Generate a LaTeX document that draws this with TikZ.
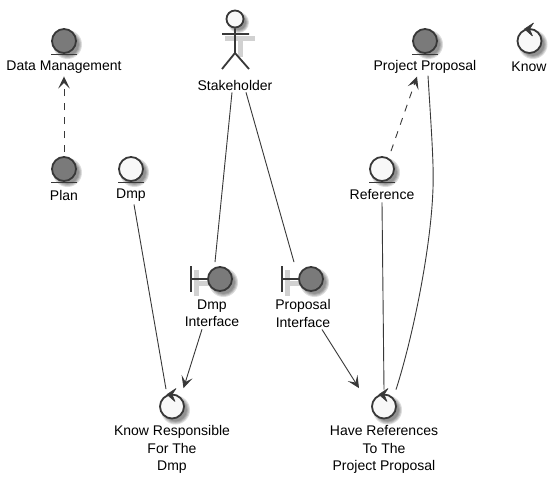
\documentclass[tikz,border=0pt]{standalone}
\usepackage{fontspec}
\setmainfont{Liberation Sans}
\usetikzlibrary{arrows.meta,calc}
\definecolor{ink}{HTML}{383838}
\definecolor{lite}{HTML}{F8F8F8}
\definecolor{dark}{HTML}{7A7A7A}
\newcommand{\softdisc}[3]{%
  \foreach \dr in {2.5,1.5,.5,-.5}{\fill[black,opacity=.13] ({#1+3.5},{#2+3.5}) circle ({#3+\dr});}}
\tikzset{
  ball/.style={circle,draw=ink,line width=1.8pt,minimum size=24pt,inner sep=0pt},
  lightball/.style={ball,fill=lite},
  darkball/.style={ball,fill=dark},
  glyph/.style={draw=ink,line width=1.8pt},
  chevron/.style={fill=ink,draw=ink,line width=.6pt,line join=round},
  glyphshadow/.style={draw=black!18,line width=5pt},
  caption/.style={font=\fontsize{14pt}{17.3pt}\selectfont,align=center,text=black,inner sep=0pt},
  link/.style={draw=ink,line width=.9pt},
  headed/.style={link,-{Stealth[length=12pt,width=11.5pt,inset=5.5pt]}},
  dashlink/.style={headed,dash pattern=on 7pt off 7pt}
}
\begin{document}
\begin{tikzpicture}[x=1pt,y=-1pt]
\useasboundingbox (0,0) rectangle (557,484);
\fill[white] (0,0) rectangle (557,484);
% entities
\foreach \n/\x/\y/\s in {dm/64/41/darkball,plan/64/169/darkball,dmp/131/169/lightball,pp/425/41/darkball,ref/382/169/lightball}{
  \softdisc{\x}{\y}{12}
  \node[\s] (\n) at (\x,\y) {};
  \draw[glyph] ($(\n.center)+(-13,13.5)$) -- ($(\n.center)+(13,13.5)$);
}
% controls
\foreach \n/\x/\y in {know/529.5/41,krd/172/406.5,hrp/384/406.5}{
  \softdisc{\x}{\y}{12}
  \node[lightball] (\n) at (\x,\y) {};
  \draw[chevron] ($(\n.center)+(4,-18)$) -- ($(\n.center)+(-5,-12)$) -- ($(\n.center)+(3,-5)$) -- ($(\n.center)+(0,-12)$) -- cycle;
}
% boundaries
\foreach \n/\x/\y in {dmpi/220/279,ppi/311/279}{
  \draw[glyphshadow] ({\x-24},{\y-9}) -- ({\x-24},{\y+17}) ({\x-24},{\y+4}) -- ({\x-10},{\y+4});
  \softdisc{\x}{\y}{12}
  \node[darkball] (\n) at (\x,\y) {};
  \draw[glyph] ($(\n.center)+(-29,-13)$) -- ($(\n.center)+(-29,13)$) ($(\n.center)+(-29,0)$) -- (\n.west);
}
% actor
\softdisc{235}{19}{8}
\draw[glyphshadow] (225,39) -- (255,39) (240,36) -- (240,57);
\node[circle,draw=ink,fill=lite,line width=1.8pt,minimum size=17pt,inner sep=0pt] (head) at (235,19) {};
\draw[glyph] (head.south) -- ($(head.center)+(0,34)$) coordinate (hip)
  ($(head.center)+(-13,15)$) -- ($(head.center)+(14,15)$)
  ($(head.center)+(-13,50)$) -- (hip) -- ($(head.center)+(14,50)$);
% captions
\node[caption] (dml) at (64,67) {Data Management};
\node[caption] (planl) at (64,195) {Plan};
\node[caption] (dmpl) at (131,195) {Dmp};
\node[caption] (stk) at (235,85) {Stakeholder};
\node[caption] (ppl) at (425,67) {Project Proposal};
\node[caption] (knowl) at (529,67) {Know};
\node[caption] (refl) at (382,195) {Reference};
\node[caption] (dmpil) at (212,313.5) {Dmp\\Interface};
\node[caption] (ppil) at (303,313.5) {Proposal\\Interface};
\node[caption] (krdl) at (172,449.5) {Know Responsible\\For The\\Dmp};
\node[caption] (hrpl) at (384,449.5) {Have References\\To The\\Project Proposal};
% connectors
\draw[dashlink] ([yshift=4pt]plan.north) -- ([yshift=-3pt]dml.south);
\draw[link] ([xshift=3pt,yshift=-3pt]dmpl.south) -- ([xshift=-6pt,yshift=4.5pt]krd.north);
\draw[link] ([xshift=-3pt,yshift=-2pt]stk.south) -- ([xshift=-5pt,yshift=4pt]dmpi.north);
\draw[link] ([xshift=11pt,yshift=-2pt]stk.south) -- ([xshift=-17pt,yshift=4pt]ppi.north);
\draw[headed] ([xshift=-10pt,yshift=-2pt]dmpil.south) -- ([xshift=11.5pt,yshift=5.5pt]krd.north);
\draw[headed] ([xshift=19pt,yshift=-2pt]ppil.south) -- ([xshift=-25pt,yshift=5.5pt]hrp.north);
\draw[dashlink] ([xshift=9pt,yshift=5pt]ref.north) -- ([xshift=-8pt,yshift=-3pt]ppl.south);
\draw[link] ([yshift=-2pt]refl.south) -- ([yshift=4pt]hrp.north);
\draw[link] ([xshift=3pt,yshift=-2pt]ppl.south) .. controls (431,125) and (434,165) .. (433,188) .. controls (431,250) and (412,340) .. ([xshift=12pt,yshift=4pt]hrp.north);
\end{tikzpicture}
\end{document}
